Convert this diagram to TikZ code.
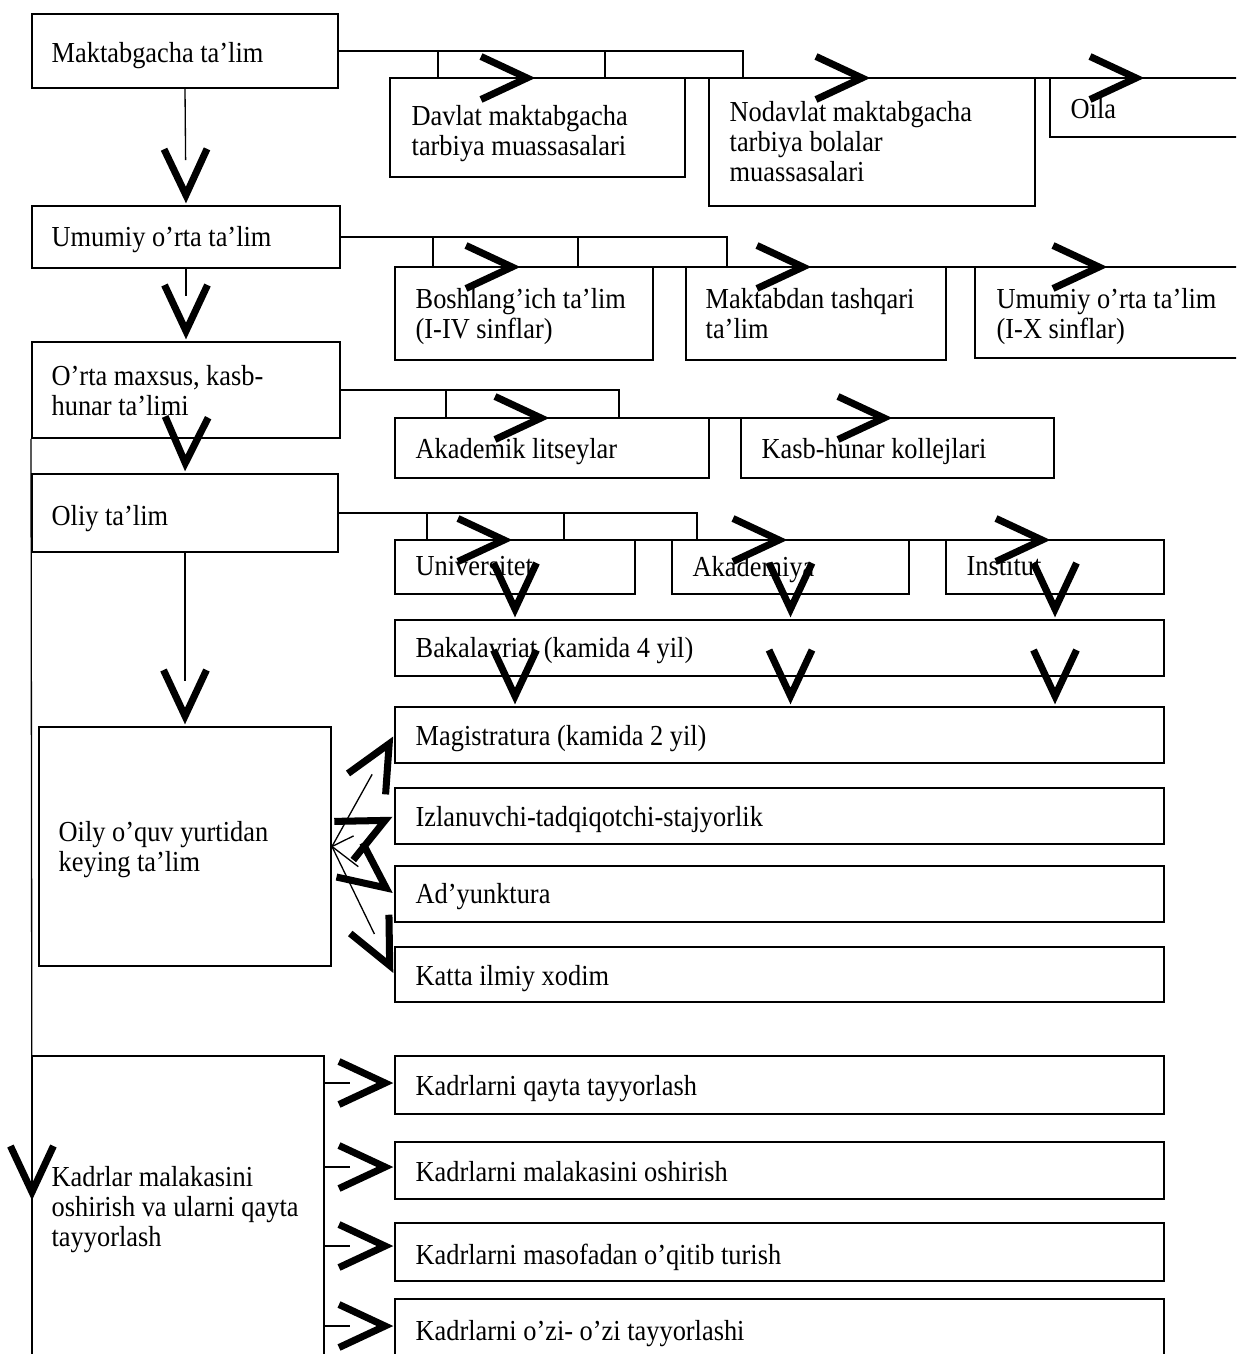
\documentclass[tikz,border=0pt]{standalone}
\usepackage{fontspec}
\setmainfont{Liberation Serif}[FakeStretch=0.91]
\usetikzlibrary{calc,fit}
\newcommand\chevarrow[2]{\draw[chevron] ($(#2)!1.2cm!21:(#1)$) -- ($(#2)!0.2cm!(#1)$) -- ($(#2)!1.2cm!-21:(#1)$);}
\newcommand\chevlink[2]{\draw (#1) -- ($(#2)!0.9cm!(#1)$); \chevarrow{#1}{#2}}
\begin{document}
\begin{tikzpicture}[
    x=0.02cm, y=-0.02cm,
    line width=0.75pt,
    box/.style={draw, line width=1.1pt, inner sep=0pt},
    txt/.style={anchor=north west, inner sep=0pt, align=left, font=\fontsize{16.5}{17}\selectfont},
    chevron/.style={line width=4pt, line join=miter}
]
    \path[use as bounding box, clip] (0,0) rectangle (1236,1354);

    % left column
    \node[box, fit={(32,14) (338,88)}] (maktab) {};
    \node[box, fit={(32,206) (340,268)}] (umumiy) {};
    \node[box, fit={(32,342) (340,438)}] (orta) {};
    \node[box, fit={(32,474) (338,552)}] (oliy) {};
    \node[box, fit={(39,727) (331,966)}] (oily) {};
    \node[box, fit={(32,1056) (324,1380)}] (kadrlar) {};

    % right-hand boxes
    \node[box, fit={(390,78) (685,177)}] (davlat) {};
    \node[box, fit={(709,78) (1035,206)}] (nodavlat) {};
    \node[box, fit={(1050,78) (1260,137)}] (oila) {};
    \node[box, fit={(395,267) (653,360)}] (boshl) {};
    \node[box, fit={(686,267) (946,360)}] (tashqari) {};
    \node[box, fit={(975,267) (1260,358)}] (umumiyx) {};
    \node[box, fit={(395,418) (709,478)}] (litsey) {};
    \node[box, fit={(741,418) (1054,478)}] (kollej) {};
    \node[box, fit={(395,540) (635,594)}] (univ) {};
    \node[box, fit={(672,540) (909,594)}] (akad) {};
    \node[box, fit={(946,540) (1164,594)}] (inst) {};
    \node[box, fit={(395,620) (1164,676)}] (bak) {};
    \node[box, fit={(395,707) (1164,763)}] (mag) {};
    \node[box, fit={(395,788) (1164,844)}] (izl) {};
    \node[box, fit={(395,866) (1164,922)}] (ady) {};
    \node[box, fit={(395,947) (1164,1002)}] (katta) {};
    \node[box, fit={(395,1056) (1164,1114)}] (qayta) {};
    \node[box, fit={(395,1142) (1164,1199)}] (malaka) {};
    \node[box, fit={(395,1223) (1164,1281)}] (masofa) {};
    \node[box, fit={(395,1299) (1164,1380)}] (ozi) {};

    \node[txt] (maktab-t) at (51,42) {Maktabgacha ta’lim};
    \node[txt] (davlat-t) at (411,105) {Davlat maktabgacha\\tarbiya muassasalari};
    \node[txt] (nodavlat-t) at (729,101) {Nodavlat maktabgacha\\tarbiya bolalar\\muassasalari};
    \node[txt] (oila-t) at (1070,98) {Oila};
    \node[txt] (umumiy-t) at (51,226) {Umumiy o’rta ta’lim};
    \node[txt] (boshl-t) at (415,288) {Boshlang’ich ta’lim\\(I-IV sinflar)};
    \node[txt] (tashqari-t) at (705,288) {Maktabdan tashqari\\ta’lim};
    \node[txt] (umumiyx-t) at (996,288) {Umumiy o’rta ta’lim\\(I-X sinflar)};
    \node[txt] (orta-t) at (51,365) {O’rta maxsus, kasb-\\hunar ta’limi};
    \node[txt] (litsey-t) at (415,438) {Akademik litseylar};
    \node[txt] (kollej-t) at (761,438) {Kasb-hunar kollejlari};
    \node[txt] (oliy-t) at (51,505) {Oliy ta’lim};
    \node[txt] (univ-t) at (415,556) {Universitet};
    \node[txt] (akad-t) at (692,556) {Akademiya};
    \node[txt] (inst-t) at (966,556) {Institut};
    \node[txt] (bak-t) at (415,637) {Bakalavriat (kamida 4 yil)};
    \node[txt] (mag-t) at (415,725) {Magistratura (kamida 2 yil)};
    \node[txt] (izl-t) at (415,806) {Izlanuvchi-tadqiqotchi-stajyorlik};
    \node[txt] (ady-t) at (415,883) {Ad’yunktura};
    \node[txt] (katta-t) at (415,965) {Katta ilmiy xodim};
    \node[txt] (oily-t) at (58,821) {Oily o’quv yurtidan\\keying ta’lim};
    \node[txt] (kadrlar-t) at (51,1166) {Kadrlar malakasini\\oshirish va ularni qayta\\tayyorlash};
    \node[txt] (qayta-t) at (415,1075) {Kadrlarni qayta tayyorlash};
    \node[txt] (malaka-t) at (415,1161) {Kadrlarni malakasini oshirish};
    \node[txt] (masofa-t) at (415,1243) {Kadrlarni masofadan o’qitib turish};
    \node[txt] (ozi-t) at (415,1320) {Kadrlarni o’zi- o’zi tayyorlashi};

    % branch points and arrow ends
    \coordinate (a1) at (438,78);  \coordinate (a2) at (605,78);  \coordinate (a3) at (743,78);
    \coordinate (ta1) at (537,78); \coordinate (ta2) at (872,78); \coordinate (ta3) at (1146,78);
    \coordinate (b1) at (433,267); \coordinate (b2) at (578,267); \coordinate (b3) at (727,267);
    \coordinate (tb1) at (522,267); \coordinate (tb2) at (813,267); \coordinate (tb3) at (1109,267);
    \coordinate (c1) at (446,418); \coordinate (c2) at (619,418);
    \coordinate (tc1) at (551,418); \coordinate (tc2) at (894,418);
    \coordinate (d1) at (427,540); \coordinate (d2) at (564,540); \coordinate (d3) at (697,540);
    \coordinate (td1) at (514,540); \coordinate (td2) at (789,540); \coordinate (td3) at (1052,540);
    \coordinate (e1) at (395,1083); \coordinate (e2) at (395,1167);
    \coordinate (e3) at (395,1246); \coordinate (e4) at (395,1326);
    \coordinate (lv) at (32,1202);

    \draw (maktab.east) -| (a3) (a1 |- maktab.east) -- (a1) (a2 |- maktab.east) -- (a2);
    \draw (umumiy.east) -| (b3) (b1 |- umumiy.east) -- (b1) (b2 |- umumiy.east) -- (b2);
    \draw (orta.east) -| (c2) (c1 |- orta.east) -- (c1);
    \draw (oliy.east) -| (d3) (d1 |- oliy.east) -- (d1) (d2 |- oliy.east) -- (d2);

    \chevlink{a1}{ta1} \chevlink{a2}{ta2} \chevlink{a3}{ta3}
    \chevlink{b1}{tb1} \chevlink{b2}{tb2} \chevlink{b3}{tb3}
    \chevlink{c1}{tc1} \chevlink{c2}{tc2}
    \chevlink{d1}{td1} \chevlink{d2}{td2} \chevlink{d3}{td3}

    \chevlink{maktab.south}{umumiy.north}
    \chevlink{umumiy.south}{orta.north}
    \chevarrow{orta.south}{oliy.north}
    \chevlink{oliy.south}{oily.north}
    \chevlink{orta.south west}{lv}

    \foreach \c in {univ,akad,inst} {
        \chevarrow{\c}{\c |- bak.north}
        \chevarrow{\c |- bak.north}{\c |- mag.north}
    }
    \foreach \t in {mag,izl,ady,katta}
        \chevlink{oily.east}{\t.west};
    \foreach \t in {e1,e2,e3,e4}
        \chevlink{kadrlar.east |- \t}{\t};
\end{tikzpicture}
\end{document}
